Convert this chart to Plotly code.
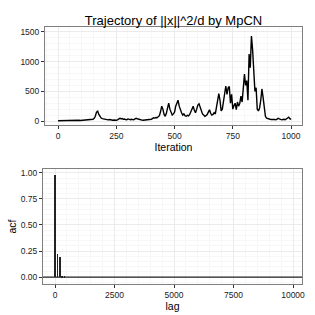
import plotly.graph_objects as go

# Trajectory values read every 5 iterations
iters = list(range(0, 1001, 5))
traj = [5, 6, 5, 7, 6, 8, 7, 9, 8, 10, 9, 12, 14, 11, 10, 12, 9, 11, 13, 10,
        12, 9, 11, 10, 12, 14, 12, 15, 18, 22, 30, 45, 80, 150, 165, 110, 70, 50, 40, 35,
        30, 25, 22, 20, 25, 18, 15, 14, 16, 12, 14, 20, 30, 45, 38, 42, 30, 35, 25, 20,
        35, 28, 22, 30, 25, 20, 35, 45, 38, 30, 22, 18, 15, 12, 14, 18, 15, 20, 25, 22,
        30, 40, 55, 50, 60, 55, 70, 90, 160, 250, 200, 110, 80, 130, 220, 300, 200, 140, 100, 120,
        150, 250, 300, 350, 250, 180, 140, 100, 120, 90, 80, 95, 85, 110, 150, 200, 250, 180, 140, 200,
        270, 290, 230, 160, 120, 100, 80, 90, 110, 150, 190, 130, 100, 110, 140, 120, 250, 380, 460, 350,
        170, 200, 350, 480, 590, 450, 560, 580, 300, 450, 200, 260, 300, 190, 320, 250, 300, 420, 320, 550,
        790, 600, 680, 350, 1130, 900, 1430, 1200, 700, 500, 560, 200, 170, 220, 350, 540, 400, 200, 80, 50,
        40, 35, 30, 25, 28, 22, 25, 20, 30, 45, 35, 25, 20, 25, 30, 22, 35, 50, 65, 40, 25]

# ACF values at lags 0, 100, ..., 10000
lags = list(range(0, 10001, 100))
acf = [0.98, 0.22, 0.19, 0.01, 0.005] + [0.0] * (len(lags) - 5)

FONT = "Liberation Sans"
fig = go.Figure()
fig.add_trace(go.Scatter(x=iters, y=traj, mode="lines",
                         line=dict(color="black", width=1.4),
                         xaxis="x", yaxis="y", showlegend=False))
fig.add_trace(go.Bar(x=lags, y=acf, width=30, marker=dict(color="#222222", line=dict(width=0)),
                     xaxis="x2", yaxis="y2", showlegend=False))

W = H = 315
def fx(a, b):
    return [a / W, b / W]
def fy(top, bot):
    return [1 - bot / H, 1 - top / H]

axis_common = dict(showline=True, linecolor="#7f7f7f", linewidth=1, mirror=True,
                   ticks="outside", ticklen=3, tickcolor="#333333", tickwidth=1,
                   tickfont=dict(family=FONT, size=8.5, color="#222222"),
                   ticklabeloverflow="allow",
                   showgrid=True, gridcolor="#ebebeb", gridwidth=1,
                   minor=dict(showgrid=True, gridcolor="#f7f7f7", gridwidth=0.5),
                   zeroline=False, automargin=False)

fig.update_layout(
    width=W, height=H, margin=dict(l=0, r=0, t=0, b=0),
    paper_bgcolor="white", plot_bgcolor="white",
    bargap=0,
    title=dict(text="Trajectory of ||x||^2/d by MpCN", x=173.5 / W, xanchor="center",
               y=1 - 20 / H, yanchor="middle",
               font=dict(family=FONT, size=13, color="black")),
    xaxis=dict(domain=fx(45, 302), range=[-56, 1047], tickvals=[0, 250, 500, 750, 1000],
               tickformat="d",
               title=dict(text="Iteration", font=dict(family=FONT, size=10.5, color="black"), standoff=0),
               anchor="y", **axis_common),
    yaxis=dict(domain=fy(27, 125), range=[-67, 1584], tickvals=[0, 500, 1000, 1500],
               tickformat="d",
               anchor="x", **axis_common),
    xaxis2=dict(domain=fx(43, 302), range=[-504, 10378], tickvals=[0, 2500, 5000, 7500, 10000],
                tickformat="d",
                title=dict(text="lag", font=dict(family=FONT, size=10.5, color="black"), standoff=0),
                anchor="y2", **axis_common),
    yaxis2=dict(domain=fy(169, 284), range=[-0.067, 1.038], tickvals=[0, 0.25, 0.5, 0.75, 1.0],
                tickformat=".2f",
                title=dict(text="acf", font=dict(family=FONT, size=10.5, color="black"), standoff=2),
                anchor="x2", **axis_common),
)
fig.add_shape(type="line", xref="x2 domain", yref="y2", x0=0, x1=1, y0=0, y1=0,
              line=dict(color="#222222", width=1.2))
fig.write_html("out.html", config={"displayModeBar": False},
               post_script="document.body.style.margin='0';document.body.style.padding='0';")
